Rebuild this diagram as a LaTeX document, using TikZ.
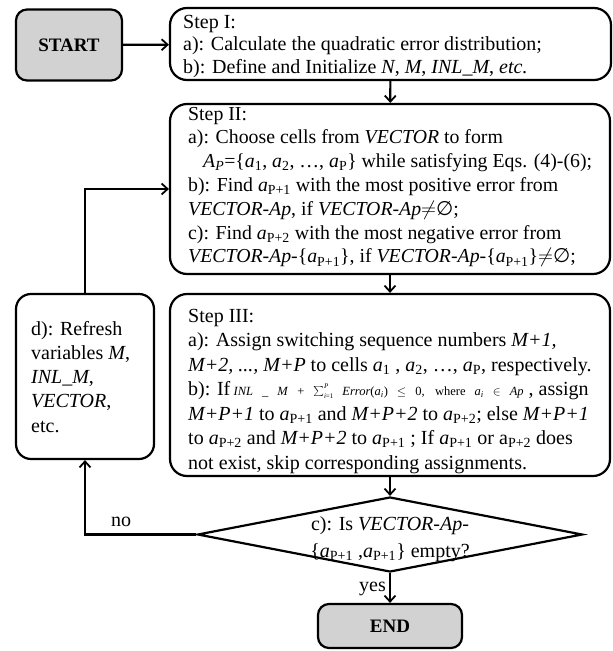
\documentclass[tikz,border=0pt]{standalone}
\usepackage{fontspec}
\setmainfont{Liberation Serif}
\newfontfamily\symf{DejaVu Sans}
\usetikzlibrary{arrows.meta,shapes.geometric}
\newcommand\myap[1]{\textit{a}\textsubscript{P#1}}
\newcommand\mysub[2]{\textit{#1}\textsubscript{#2}}
\newcommand\myempty{{\symf ∅}}
\newcommand\mysum{{\fontsize{19}{20}\selectfont$\sum$}\rlap{\raisebox{7pt}{\fontsize{7}{8}\selectfont\textit{P}}}\raisebox{-2.5pt}{\fontsize{7}{8}\selectfont\textit{i}=1}}
\begin{document}
\begin{tikzpicture}[x=1pt,y=-1pt,
  stepbox/.style={draw, line width=2.2pt, rounded corners=17pt, inner sep=0pt},
  termbox/.style={draw, line width=2.2pt, rounded corners=11pt, fill=gray!35, inner sep=0pt, font=\fontsize{19}{22}\selectfont\bfseries},
  txt/.style={anchor=north west, align=left, inner sep=0pt},
  conn/.style={line width=2.2pt, -{Straight Barb[length=6pt,width=11pt,line width=1.8pt]}},
  lbl/.style={inner sep=0pt, font=\fontsize{20}{24}\selectfont}]
\useasboundingbox (0,0) rectangle (613,651);
% boxes
\node[termbox, minimum width=106pt, minimum height=71pt] (start) at (69,45) {START};
\node[stepbox, minimum width=441pt, minimum height=72pt] (s1) at (390.5,44) {};
\node[stepbox, minimum width=440pt, minimum height=170pt] (s2) at (390,189) {};
\node[stepbox, minimum width=440pt, minimum height=182pt] (s3) at (390,385) {};
\node[stepbox, rounded corners=15pt, minimum width=138pt, minimum height=165pt] (d) at (85,376.5) {};
\node[draw, line width=2.2pt, diamond, minimum width=385pt, minimum height=75pt, inner sep=0pt] (dia) at (390,534.5) {};
\node[termbox, minimum width=144pt, minimum height=44pt] (end) at (390,626) {END};
% texts
\node[txt, font=\fontsize{20}{22.5}\selectfont] (t1) at (183,12.25) {\strut Step I:\\
a): Calculate the quadratic error distribution;\\
b): Define and Initialize \textit{N}, \textit{M}, \textit{INL\_M}, \textit{etc.}};
\node[txt, font=\fontsize{19.8}{23.8}\selectfont] (t2) at (188,103.3) {\strut Step II:\\
a): Choose cells from \textit{VECTOR} to form\\
\hspace*{15pt}\mysub{A}{\textit{P}}=\{\mysub{a}{1}, \mysub{a}{2}, …, \mysub{a}{P}\} while satisfying Eqs. (4)-(6);\\
b): Find \myap{+1} with the most positive error from\\
\textit{VECTOR-Ap}, if \textit{VECTOR-Ap}$\neq$\myempty;\\
c): Find \myap{+2} with the most negative error from\\
\textit{VECTOR-Ap-}\{\myap{+1}\}, if \textit{VECTOR-Ap-}\{\myap{+1}\}$\neq$\myempty;};
\node[txt, font=\fontsize{20}{24.5}\selectfont] (t3) at (188,304.85) {\strut Step III:\\
a): Assign switching sequence numbers \textit{M+1,}\\
\textit{M+2, ..., M+P} to cells \mysub{a}{1} , \mysub{a}{2}, …, \mysub{a}{P}, respectively.\\
b): If\,{\fontsize{12.5}{14}\selectfont\makebox[290pt][s]{\textit{INL} \_ \textit{M} + \mysum{} \textit{Error}(\mysub{a}{\textit{i}}) $\le$ 0, where \mysub{a}{\textit{i}} $\in$ \textit{Ap}}} , assign\\
\textit{M+P+1} to \myap{+1} and \textit{M+P+2} to \myap{+2}; else \textit{M+P+1}\\
to \myap{+2} and \textit{M+P+2} to \myap{+1} ; If \myap{+1} or a\textsubscript{P+2} does\\
not exist, skip corresponding assignments.};
\node[txt, font=\fontsize{20}{24.25}\selectfont] (t4) at (31,318) {\strut d): Refresh\\
variables \textit{M},\\
\textit{INL\_M},\\
\textit{VECTOR},\\
etc.};
\node[anchor=north, align=center, inner sep=0pt, font=\fontsize{20}{27}\selectfont] (t5) at (390,511.1) {\strut c): Is \textit{VECTOR-Ap-}\\
\{\myap{+1} ,\myap{+1}\} empty?};
% connectors
\draw[conn] (start) -- (s1);
\draw[conn] (s1) -- (s2);
\draw[conn] (s2) -- (s3);
\draw[conn] (s3) -- (dia);
\draw[conn] (dia) -- (end);
\draw[conn] (dia.west) -| (d.south);
\draw[conn] (d.north) |- (s2.west);
% labels
\node[lbl, anchor=base east] (yes) at (386,591) {yes};
\node[lbl, anchor=base] (no) at (121,526) {no};
\end{tikzpicture}
\end{document}
